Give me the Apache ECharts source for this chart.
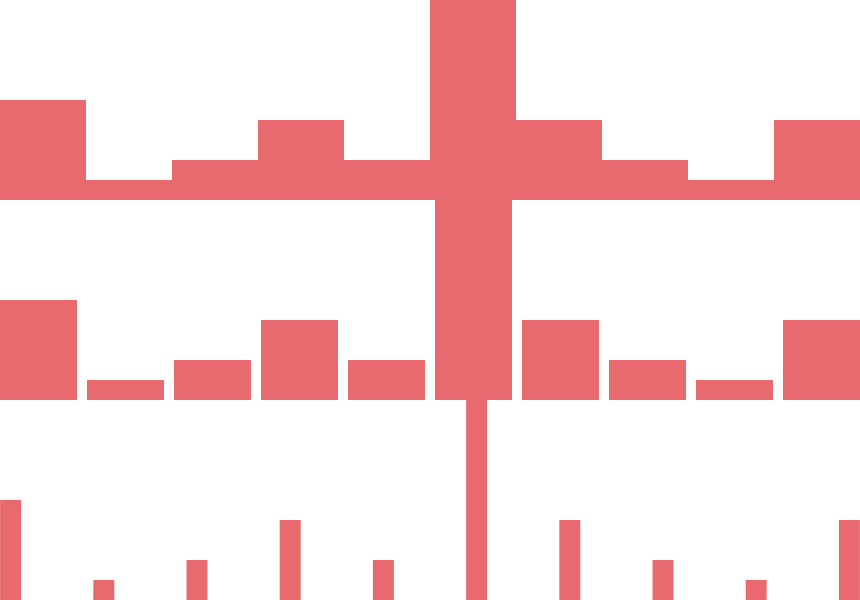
<!DOCTYPE html>
<html>
<head>
<meta charset="utf-8">
<script src="https://cdn.jsdelivr.net/npm/echarts@6/dist/echarts.min.js"></script>
<style>
html,body{margin:0;padding:0;background:#fff;overflow:hidden;width:860px;height:600px;}
#main{width:932px;height:600px;margin-left:-36px;}
</style>
</head>
<body>
<div id="main"></div>
<script>
//类目
var categories = ['A','B','C','D','E','F','G','H','I','J'];
//柱子数值
var values = [5,1,2,4,2,10,4,2,1,4];
var barColor = '#e86a6e';

var myChart = echarts.init(document.getElementById('main'));

function xAxisOf(idx){
    return {type:'category',gridIndex:idx,data:categories,show:false};
}
function yAxisOf(idx){
    return {type:'value',gridIndex:idx,min:0,max:10,show:false};
}

// 容器向左偏移36px，各grid按页面位置排布
var option = {
    animation:false,
    grid:[
        {left:36,top:0,width:860,height:200},
        {left:31,top:200,width:870,height:200},
        {left:0,top:400,width:932,height:200}
    ],
    xAxis:[xAxisOf(0),xAxisOf(1),xAxisOf(2)],
    yAxis:[yAxisOf(0),yAxisOf(1),yAxisOf(2)],
    series:[
        {type:'bar',xAxisIndex:0,yAxisIndex:0,data:values,barCategoryGap:'0%',itemStyle:{color:barColor}},
        {type:'bar',xAxisIndex:1,yAxisIndex:1,data:values,barWidth:77,itemStyle:{color:barColor}},
        {type:'bar',xAxisIndex:2,yAxisIndex:2,data:values,barWidth:21,itemStyle:{color:barColor}}
    ]
};
myChart.setOption(option);
</script>
</body>
</html>
